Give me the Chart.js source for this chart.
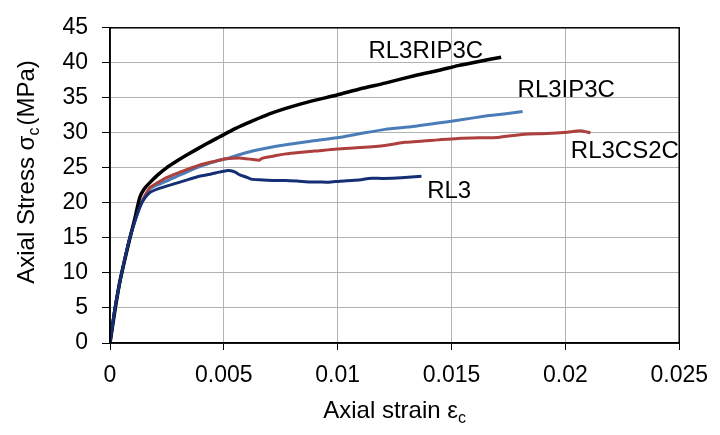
<!DOCTYPE html>
<html>
<head>
<meta charset="utf-8">
<script src="https://cdn.jsdelivr.net/npm/chart.js@4/dist/chart.umd.min.js"></script>
<style>
  html, body { margin: 0; padding: 0; background: #fff; }
  #wrap { width: 720px; height: 435px; }
</style>
</head>
<body>
<div id="wrap"><canvas id="curves"></canvas></div>
<script>
// axial strain / axial stress (MPa)
const rl3Strain = [0, 0.00022, 0.00051, 0.00087, 0.0012, 0.00138, 0.00155, 0.00175, 0.0021, 0.00248, 0.003, 0.0035, 0.00393, 0.0044, 0.0048, 0.0051, 0.0053, 0.0055, 0.0057, 0.00597, 0.0062, 0.00655, 0.0072, 0.00772, 0.0083, 0.0088, 0.00917, 0.0096, 0.0101, 0.01062, 0.011, 0.01135, 0.012, 0.0128, 0.01368];
const rl3Stress = [0, 5.0, 9.9, 15.0, 18.4, 19.9, 20.8, 21.5, 22.0, 22.4, 22.9, 23.4, 23.8, 24.1, 24.4, 24.6, 24.6, 24.4, 24.0, 23.7, 23.4, 23.3, 23.2, 23.2, 23.1, 23.0, 23.0, 22.95, 23.1, 23.2, 23.3, 23.5, 23.5, 23.6, 23.8];

const rl3rip3cStrain = [0, 0.0002, 0.00044, 0.00087, 0.0011, 0.00131, 0.0015, 0.00175, 0.0021, 0.00248, 0.0029, 0.00335, 0.00422, 0.0048, 0.0055, 0.00626, 0.007, 0.00772, 0.0088, 0.00997, 0.011, 0.01208, 0.01354, 0.01441, 0.01528, 0.0162, 0.01718];
const rl3rip3cStress = [0, 4.3, 8.9, 14.9, 17.9, 20.8, 22.0, 22.9, 24.0, 25.0, 25.9, 26.8, 28.4, 29.4, 30.6, 31.7, 32.7, 33.5, 34.5, 35.4, 36.3, 37.1, 38.3, 38.9, 39.6, 40.2, 40.8];

const rl3ip3cStrain = [0, 0.00022, 0.00051, 0.00087, 0.0012, 0.00138, 0.00155, 0.00175, 0.0021, 0.00248, 0.003, 0.0035, 0.00393, 0.0044, 0.0048, 0.0051, 0.0056, 0.00626, 0.00684, 0.00772, 0.0088, 0.00997, 0.011, 0.01208, 0.0133, 0.01441, 0.01528, 0.0165, 0.0173, 0.01812];
const rl3ip3cStress = [0, 5.0, 9.9, 15.0, 18.5, 20.0, 21.1, 22.0, 22.6, 23.1, 23.9, 24.6, 25.2, 25.7, 26.1, 26.3, 26.8, 27.4, 27.8, 28.3, 28.8, 29.3, 29.9, 30.5, 30.9, 31.4, 31.8, 32.4, 32.7, 33.05];

const rl3cs2cStrain = [0, 0.00022, 0.00051, 0.00087, 0.0012, 0.00138, 0.00155, 0.00175, 0.0021, 0.00248, 0.003, 0.0035, 0.00393, 0.0044, 0.0048, 0.0051, 0.00568, 0.00597, 0.0063, 0.00655, 0.0067, 0.0072, 0.00772, 0.0083, 0.009, 0.00997, 0.011, 0.01208, 0.01295, 0.01441, 0.01528, 0.0162, 0.01703, 0.0182, 0.0192, 0.02009, 0.02067, 0.0211];
const rl3cs2cStress = [0, 5.0, 9.9, 15.0, 18.5, 20.0, 21.1, 22.2, 22.9, 23.6, 24.3, 24.9, 25.4, 25.8, 26.1, 26.3, 26.4, 26.3, 26.2, 26.1, 26.4, 26.7, 27.0, 27.2, 27.4, 27.7, 27.9, 28.2, 28.65, 29.0, 29.2, 29.3, 29.35, 29.8, 29.9, 30.1, 30.3, 30.0];

const seriesNames = ["RL3", "RL3RIP3C", "RL3CS2C", "RL3IP3C"];
// where each curve name sits (left edge, vertical middle) in data units
const nameX = [0.01393, 0.01135, 0.02024, 0.0179];
const nameY = [21.7, 41.7, 27.4, 36.1];

const xTickLabels = ["0", "0.005", "0.01", "0.015", "0.02", "0.025"];
const yTickLabels = ["0", "5", "10", "15", "20", "25", "30", "35", "40", "45"];

const FONT = "'Liberation Sans', Arial, sans-serif";

function pts(xs, ys) {
  return xs.map((x, i) => ({ x: x, y: ys[i] }));
}

// axis titles with subscripts, plot frame and curve names
const extras = {
  id: "extras",
  afterDraw(chart) {
    const c = chart.ctx;
    const a = chart.chartArea;
    const sx = chart.scales.x, sy = chart.scales.y;
    c.save();

    c.strokeStyle = "#000";
    c.lineWidth = 1.5;
    c.strokeRect(a.left, a.top, a.right - a.left, a.bottom - a.top);

    c.fillStyle = "#000";
    c.textBaseline = "middle";
    c.textAlign = "left";
    c.font = "24px " + FONT;
    seriesNames.forEach((n, i) => {
      c.fillText(n, sx.getPixelForValue(nameX[i]), sy.getPixelForValue(nameY[i]));
    });

    // x title
    const big = "24px " + FONT, small = "16px " + FONT;
    c.textBaseline = "alphabetic";
    c.font = big;
    const t1 = "Axial strain \u03b5";
    const w1 = c.measureText(t1).width;
    c.font = small;
    const w2 = c.measureText("c").width;
    let x0 = (a.left + a.right) / 2 - (w1 + w2) / 2;
    c.font = big;
    c.fillText(t1, x0, 418);
    c.font = small;
    c.fillText("c", x0 + w1, 423);

    // y title, rotated
    c.translate(34, 172);
    c.rotate(-Math.PI / 2);
    c.font = big;
    const p1 = "Axial Stress \u03c3", p3 = "(MPa)";
    const q1 = c.measureText(p1).width, q3 = c.measureText(p3).width;
    c.font = small;
    const q2 = c.measureText("c").width + 2;
    let s = -(q1 + q2 + q3) / 2;
    c.font = big;
    c.fillText(p1, s, 0);
    c.font = small;
    c.fillText("c", s + q1, 5);
    c.font = big;
    c.fillText(p3, s + q1 + q2, 0);
    c.restore();
  }
};

const lineStyle = { pointRadius: 0, borderWidth: 3, tension: 0.2, fill: false };

new Chart(document.getElementById("curves"), {
  type: "line",
  data: {
    datasets: [
      { label: seriesNames[0], data: pts(rl3Strain, rl3Stress), borderColor: "#142f73", ...lineStyle },
      { label: seriesNames[1], data: pts(rl3rip3cStrain, rl3rip3cStress), borderColor: "#000000", ...lineStyle, borderWidth: 3.5 },
      { label: seriesNames[2], data: pts(rl3cs2cStrain, rl3cs2cStress), borderColor: "#ad3f3d", ...lineStyle },
      { label: seriesNames[3], data: pts(rl3ip3cStrain, rl3ip3cStress), borderColor: "#4a7db8", ...lineStyle }
    ]
  },
  options: {
    responsive: true,
    maintainAspectRatio: false,
    animation: false,
    layout: { padding: { left: 0, top: 19, right: 38, bottom: 0 } },
    plugins: { legend: { display: false }, tooltip: { enabled: false } },
    scales: {
      x: {
        type: "linear",
        min: 0,
        max: 0.025,
        afterFit: (s) => { s.height = 92; },
        grid: { color: "#b3b3b3", lineWidth: 1, tickColor: "#000", tickLength: 7 },
        border: { color: "#000", width: 1.5 },
        ticks: {
          stepSize: 0.005,
          padding: 12,
          color: "#000",
          font: { family: FONT, size: 23 },
          maxRotation: 0,
          callback: (v, i) => xTickLabels[i]
        }
      },
      y: {
        min: 0,
        max: 45,
        afterFit: (s) => { s.width = 110; },
        grid: { color: "#b3b3b3", lineWidth: 1, tickColor: "#000", tickLength: 8 },
        border: { color: "#000", width: 1.5 },
        ticks: {
          stepSize: 5,
          padding: 14,
          color: "#000",
          font: { family: FONT, size: 23 },
          callback: (v, i) => yTickLabels[i]
        }
      }
    }
  },
  plugins: [extras]
});
</script>
</body>
</html>
